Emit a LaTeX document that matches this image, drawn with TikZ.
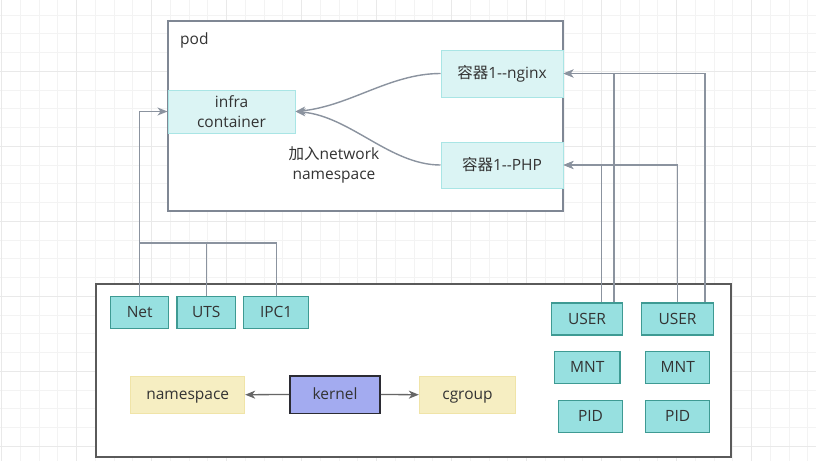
\documentclass[tikz,border=0pt]{standalone}
\usepackage{fontspec}
\setmainfont{Open Sans}
\newfontfamily\cjk{Noto Sans CJK SC}
\usetikzlibrary{arrows.meta}
\definecolor{gridminor}{HTML}{F3F3F3}
\definecolor{gridmajor}{HTML}{E9E9E9}
\definecolor{podline}{HTML}{7F8794}
\definecolor{hostline}{HTML}{5A5A5A}
\definecolor{lcfill}{HTML}{DBF4F4}
\definecolor{lcline}{HTML}{A9E5E5}
\definecolor{tealfill}{HTML}{97E0E0}
\definecolor{tealline}{HTML}{3E9A93}
\definecolor{kfill}{HTML}{A3ABF0}
\definecolor{kline}{HTML}{2B2B33}
\definecolor{crfill}{HTML}{F6EEC2}
\definecolor{crline}{HTML}{F0E4A8}
\definecolor{conn}{HTML}{8B939F}
\definecolor{darkarrow}{HTML}{666666}
\definecolor{txt}{HTML}{333333}
\tikzset{
  every node/.style={font=\fontsize{15.5}{20}\selectfont, text=txt, inner sep=0pt},
  oneline/.style={text height=12pt, text depth=2pt},
  lightbox/.style={draw=lcline, fill=lcfill, line width=1pt},
  nsbox/.style={oneline, draw=tealline, fill=tealfill, line width=1.2pt, minimum height=32pt},
  creambox/.style={oneline, draw=crline, fill=crfill, line width=1pt, minimum height=37pt},
  conline/.style={draw=conn, line width=1.4pt},
  conarrow/.style={conline, -{Stealth[length=10pt, width=8pt, inset=3pt]}},
  karrow/.style={draw=darkarrow, line width=1.3pt, -{Stealth[length=10pt, width=8pt, inset=3pt]}}
}
\begin{document}
\begin{tikzpicture}[x=1pt, y=-1pt]
\useasboundingbox (0,0) rectangle (816,461);
\fill[white] (0,0) rectangle (816,461);
% background grid
\foreach \k in {0,...,43} \draw[gridminor, line width=1pt] ({1.7+18.75*\k},0) -- ({1.7+18.75*\k},461);
\foreach \k in {1,...,25} \draw[gridminor, line width=1pt] (0,{-3.7+18.75*\k}) -- (816,{-3.7+18.75*\k});
\foreach \k in {0,...,10} \draw[gridmajor, line width=1.3pt] ({1.7+75*\k},0) -- ({1.7+75*\k},461);
\foreach \k in {1,...,6} \draw[gridmajor, line width=1.3pt] (0,{-3.7+75*\k}) -- (816,{-3.7+75*\k});

% pod
\node (pod) [draw=podline, fill=white, line width=2pt, minimum width=395pt, minimum height=190pt] at (365.5,116) {};
\node (podlabel) [anchor=west] at (180,40) {pod};
\node (infra) [lightbox, align=center, minimum width=127pt, minimum height=43pt] at (231.5,111.5) {infra\\container};
\node (nginx) [lightbox, oneline, minimum width=122pt, minimum height=47pt] at (502,73.5) {{\cjk 容器}1-{}-nginx};
\node (php) [lightbox, oneline, minimum width=122pt, minimum height=46pt] at (502,165) {{\cjk 容器}1-{}-PHP};
\node (joinlabel) [align=center] at (334,165) {{\cjk 加入}network\\namespace};

\draw[conarrow] (nginx.west) .. controls (390,73.5) and (350,106) .. (infra.east);
\draw[conarrow] (php.west) .. controls (390,165) and (350,116) .. (infra.east);

% host
\node (host) [draw=hostline, fill=white, line width=2pt, minimum width=635pt, minimum height=173pt] at (413.5,370.5) {};
\node (net) [nsbox, minimum width=58pt] at (139.7,312.5) {Net};
\node (uts) [nsbox, minimum width=58.7pt] at (206.3,312.5) {UTS};
\node (ipc) [nsbox, minimum width=65pt] at (276.2,312.5) {IPC1};
\node (user1) [nsbox, minimum width=70.6pt] at (587,319) {USER};
\node (user2) [nsbox, minimum width=71.6pt] at (677.5,319) {USER};
\node (mnt1) [nsbox, minimum width=65.3pt] at (587.3,367.5) {MNT};
\node (mnt2) [nsbox, minimum width=64pt] at (677.7,367.5) {MNT};
\node (pid1) [nsbox, minimum width=64.4pt] at (590.5,416.7) {PID};
\node (pid2) [nsbox, minimum width=64pt] at (677.7,416.7) {PID};
\node (namespace) [creambox, minimum width=114pt] at (187.7,394.7) {namespace};
\node (kernel) [oneline, draw=kline, fill=kfill, line width=1.6pt, minimum width=90pt, minimum height=37.6pt] at (335,394.5) {kernel};
\node (cgroup) [creambox, minimum width=96.4pt] at (467.5,394.7) {cgroup};

\draw[karrow] (kernel.west) -- (namespace.east);
\draw[karrow] (kernel.east) -- (cgroup.west);

% namespace links
\coordinate (join) at (139.7,243);
\draw[conarrow] (net.north) |- (infra.west);
\draw[conline] (uts.north) |- (join);
\draw[conline] (ipc.north) |- (join);
\draw[conarrow] ([xshift=27pt]user1.north) |- (nginx.east);
\draw[conarrow] ([xshift=14.7pt]user1.north) |- (php.east);
\draw[conarrow] ([xshift=27.5pt]user2.north) |- (nginx.east);
\draw[conarrow] (user2.north) |- (php.east);
\end{tikzpicture}
\end{document}
